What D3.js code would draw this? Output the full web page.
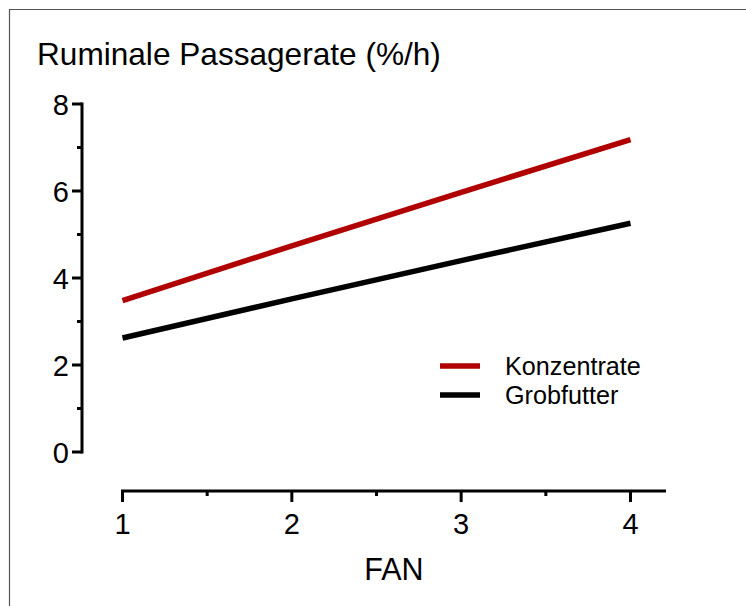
<!DOCTYPE html>
<html><head><meta charset="utf-8">
<script src="https://cdn.jsdelivr.net/npm/d3@7"></script>
<style>body{margin:0;background:#fff}svg{display:block}</style>
</head><body>
<script>
const fanValues = [1, 2, 3, 4];
const konzentrate = [3.48, 4.74, 5.97, 7.18];
const grobfutter = [2.62, 3.52, 4.40, 5.26];
const seriesNames = ["Konzentrate", "Grobfutter"];
const seriesColors = ["#b00000", "#000000"];
const yTicks = [0, 2, 4, 6, 8];
const yMinorTicks = [1, 3, 5, 7];
const xTicks = [1, 2, 3, 4];
const xMinorTicks = [1.5, 2.5, 3.5];

const W = 746, H = 606;
const svg = d3.select("body").append("svg").attr("width", W).attr("height", H);
const font = "Liberation Sans, Arial, sans-serif";

// frame (top and left)
svg.append("path").attr("d", `M9.5,${H} V9.5 H${W}`).attr("fill", "none").attr("stroke", "#555").attr("stroke-width", 1.2);

const x = d3.scaleLinear().domain([1, 4]).range([122.5, 630.5]);
const y = d3.scaleLinear().domain([0, 8]).range([452, 104]);

// Y axis
const yAxisX = 82;
const gy = svg.append("g").attr("transform", `translate(${yAxisX},0)`);
gy.append("line").attr("y1", y(0) + 1.5).attr("y2", y(8) - 1.5).attr("stroke", "#000").attr("stroke-width", 3);
gy.selectAll(".maj").data(yTicks).join("line").attr("x1", -10).attr("x2", 0)
  .attr("y1", d => y(d)).attr("y2", d => y(d)).attr("stroke", "#000").attr("stroke-width", 3);
gy.selectAll(".min").data(yMinorTicks).join("line").attr("x1", -5).attr("x2", 0)
  .attr("y1", d => y(d)).attr("y2", d => y(d)).attr("stroke", "#000").attr("stroke-width", 3);
gy.selectAll("text").data(yTicks).join("text").attr("x", -13).attr("y", d => y(d) + 10.5)
  .attr("text-anchor", "end").attr("font-family", font).attr("font-size", 29).text(d => d);

// X axis
const xAxisY = 491;
const gx = svg.append("g").attr("transform", `translate(0,${xAxisY})`);
gx.append("line").attr("x1", x(1) - 1.5).attr("x2", 666).attr("stroke", "#000").attr("stroke-width", 3);
gx.selectAll(".maj").data(xTicks).join("line").attr("x1", d => x(d)).attr("x2", d => x(d))
  .attr("y1", 0).attr("y2", 11).attr("stroke", "#000").attr("stroke-width", 3);
gx.selectAll(".min").data(xMinorTicks).join("line").attr("x1", d => x(d)).attr("x2", d => x(d))
  .attr("y1", 0).attr("y2", 5).attr("stroke", "#000").attr("stroke-width", 3);
gx.selectAll("text").data(xTicks).join("text").attr("x", d => x(d)).attr("y", 43)
  .attr("text-anchor", "middle").attr("font-family", font).attr("font-size", 29).text(d => d);

// titles
svg.append("text").attr("x", 37).attr("y", 65).attr("font-family", font).attr("font-size", 31.6).text("Ruminale Passagerate (%/h)");
svg.append("text").attr("x", 394).attr("y", 580).attr("text-anchor", "middle").attr("font-family", font).attr("font-size", 30.5).text("FAN");

// lines
const line = d3.line().x((d, i) => x(fanValues[i])).y(d => y(d));
[konzentrate, grobfutter].forEach((s, i) => {
  svg.append("path").attr("d", line(s)).attr("fill", "none").attr("stroke", seriesColors[i]).attr("stroke-width", 5.5);
});

// legend
const legY = [366, 395];
seriesNames.forEach((n, i) => {
  svg.append("line").attr("x1", 440).attr("x2", 480).attr("y1", legY[i]).attr("y2", legY[i])
    .attr("stroke", seriesColors[i]).attr("stroke-width", 5.5);
  svg.append("text").attr("x", 505).attr("y", legY[i] + 9).attr("font-family", font).attr("font-size", 25.2).text(n);
});
</script>
</body></html>
